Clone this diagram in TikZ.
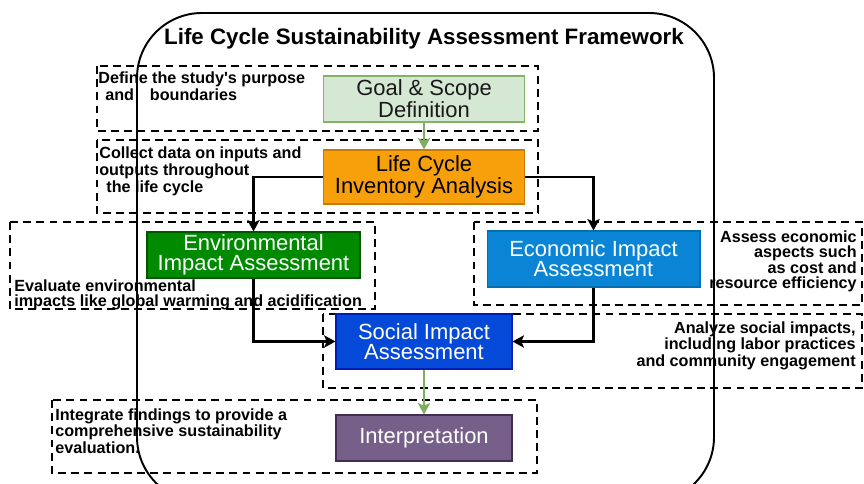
\documentclass[tikz,border=0pt]{standalone}
\usepackage{fontspec}
\setmainfont{Liberation Sans}
\usetikzlibrary{arrows.meta,positioning}

\definecolor{goalfill}{HTML}{D5E8D4}
\definecolor{goalline}{HTML}{82B366}
\definecolor{lcifill}{HTML}{F7A00C}
\definecolor{lciline}{HTML}{C97A00}
\definecolor{envfill}{HTML}{008A00}
\definecolor{envline}{HTML}{005700}
\definecolor{ecofill}{HTML}{0A85D6}
\definecolor{ecoline}{HTML}{006EAF}
\definecolor{socfill}{HTML}{0549D8}
\definecolor{socline}{HTML}{001DBC}
\definecolor{intfill}{HTML}{76608A}
\definecolor{intline}{HTML}{432D57}
\definecolor{flowgreen}{HTML}{7DAF5F}

\tikzset{
  stage/.style={draw, line width=0.6pt, align=center, inner sep=1pt,
    font=\fontsize{12.5}{11.5}\selectfont},
  notebox/.style={draw, line width=1.1pt, dash pattern=on 4.5pt off 3pt},
  note/.style={inner sep=0pt, font=\fontsize{9.2}{8.3}\selectfont\bfseries},
  wire/.style={draw=black, line width=1.2pt, -{Stealth[length=6.5pt,width=7pt,inset=1.5pt]}},
  flow/.style={wire, draw=flowgreen, fill=flowgreen, line width=1.5pt}
}

\begin{document}
\begin{tikzpicture}[x=0.02cm,y=-0.02cm]

\useasboundingbox (0,0) rectangle (864,483);

% outer frame, its lower edge runs off the page
\begin{scope}
\clip (0,0) rectangle (864,483);
\draw[line width=1.1pt, rounded corners=1.3cm] (137,13) rectangle (714,502);
\end{scope}

\node[font=\fontsize{12.7}{14}\selectfont\bfseries] (title) at (424,39)
  {Life Cycle Sustainability Assessment Framework};

% dashed note frames
\draw[notebox] (97,66) rectangle (538,131);
\draw[notebox] (97,140) rectangle (538,213);
\draw[notebox] (10,222) rectangle (375,309);
\draw[notebox] (474,222) rectangle (862,305);
\draw[notebox] (323,314) rectangle (862,388);
\draw[notebox] (52,400) rectangle (537,473);

% stages
\node[stage, fill=goalfill, draw=goalline, text=black!90,
  minimum width=4.02cm, minimum height=0.92cm] (goal) at (424,99)
  {Goal \& Scope\\Definition};
\node[stage, fill=lcifill, draw=lciline, text=black,
  minimum width=4.02cm, minimum height=1.08cm] (lci) at (424,177)
  {Life Cycle\\Inventory Analysis};
\node[stage, fill=envfill, draw=envline, text=white,
  minimum width=4.26cm, minimum height=0.92cm] (env) at (253.5,255)
  {Environmental\\Impact Assessment};
\node[stage, fill=ecofill, draw=ecoline, text=white,
  minimum width=4.26cm, minimum height=1.12cm] (eco) at (593.5,259)
  {Economic Impact\\Assessment};
\node[stage, fill=socfill, draw=socline, text=white,
  minimum width=3.52cm, minimum height=1.10cm] (soc) at (424,341.5)
  {Social Impact\\Assessment};
\node[stage, fill=intfill, draw=intline, text=white,
  minimum width=3.52cm, minimum height=0.92cm] (int) at (424,438)
  {Interpretation};

% notes
\node[note, anchor=north west, align=left] (notegoal) at (98,71.5)
  {Define the study\textquotesingle s purpose\\\hspace*{4pt}and\hspace{9pt}boundaries};
\node[note, anchor=north west, align=left] (notelci) at (99,146.5)
  {Collect data on inputs and\\outputs throughout\\\hspace*{4pt}the life cycle};
\node[note, anchor=north west, align=left] (noteenv) at (14,279.5)
  {Evaluate environmental\\impacts like global warming and acidification};
\node[note, anchor=north east, align=right] (noteeco) at (857,230.5)
  {Assess economic\\aspects such\\as cost and\\resource efficiency};
\node[note, anchor=north east, align=right] (notesoc) at (856,321)
  {Analyze social impacts,\\including labor practices\\and community engagement};
\node[note, anchor=north west, align=left] (noteint) at (55,408)
  {Integrate findings to provide a\\comprehensive sustainability\\evaluation.};

% connectors
\draw[flow] (goal) -- (lci);
\draw[wire] (lci.west) -| (env.north);
\draw[wire] (lci.east) -| (eco.north);
\draw[wire] (env.south) |- (soc.west);
\draw[wire] (eco.south) |- (soc.east);
\draw[flow] (soc) -- (int);

\end{tikzpicture}
\end{document}
